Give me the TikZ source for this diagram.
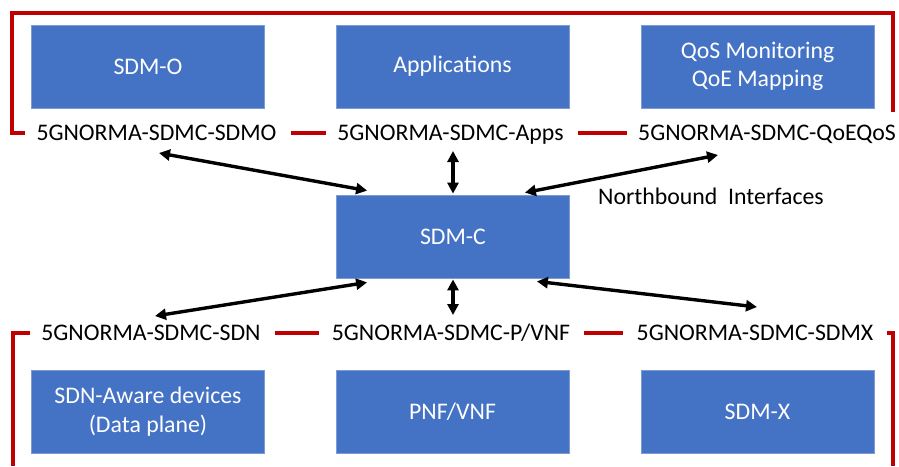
\documentclass[tikz,border=0pt]{standalone}
\usepackage{fontspec}
\setmainfont{Carlito}
\usetikzlibrary{arrows.meta,calc}
\definecolor{boxblue}{HTML}{4472C4}
\definecolor{boxedge}{HTML}{7F9BD3}
\definecolor{bracketred}{HTML}{C00000}
\begin{document}
\begin{tikzpicture}[x=1pt,y=-1pt,
  txt/.style={font=\fontsize{23.8pt}{28.5pt}\selectfont},
  blockbox/.style={txt, rectangle, fill=boxblue, draw=boxedge, line width=0.8pt,
    minimum width=233pt, minimum height=83pt, inner sep=0pt, text=white, align=center},
  iflabel/.style={txt, anchor=base, inner sep=0pt, text=black},
  redline/.style={draw=bracketred, line width=3.2pt},
  biarrow/.style={line width=3.4pt, {Triangle[length=11pt,width=11pt]}-{Triangle[length=11pt,width=11pt]}}
]
\useasboundingbox (0,0) rectangle (899,466);

% blocks
\node[blockbox] (sdmo) at (148,66.5) {SDM-O};
\node[blockbox] (apps) at (452.5,66.5) {Applications};
\node[blockbox] (qos)  at (757.5,66.5) {QoS Monitoring\\QoE Mapping};
\node[blockbox] (sdmc) at (453,236.5) {SDM-C};
\node[blockbox] (sdn)  at (148,411.5) {SDN-Aware devices\\(Data plane)};
\node[blockbox] (pnf)  at (452.5,411.5) {PNF/VNF};
\node[blockbox] (sdmx) at (757.5,411.5) {SDM-X};

% interface labels
\node[iflabel] (lo)  at (156.5,140.5) {5GNORMA-SDMC-SDMO};
\node[iflabel] (la)  at (450.5,140.5) {5GNORMA-SDMC-Apps};
\node[iflabel] (lq)  at (767,140.5) {5GNORMA-SDMC-QoEQoS};
\node[iflabel] (ls)  at (151,340.5) {5GNORMA-SDMC-SDN};
\node[iflabel] (lp)  at (451,340.5) {5GNORMA-SDMC-P/VNF};
\node[iflabel] (lx)  at (755,340.5) {5GNORMA-SDMC-SDMX};
\node[iflabel] (nb)  at (711,204.5) {Northbound\ \ Interfaces};

% red brackets
\draw[redline] (25,133) -- (12,133) -- (12,13) -- (893,13) -- (893,112);
\draw[redline] (291,133) -- (326,133);
\draw[redline] (578,133) -- (627,133);
\draw[redline] (30,333) -- (13,333) -- (13,466);
\draw[redline] (275,333) -- (319,333);
\draw[redline] (584,333) -- (623,333);
\draw[redline] (887,333) -- (893,333) -- (893,466);

% arrow free ends
\coordinate (eo) at (159,153);
\coordinate (ea) at (453,151);
\coordinate (eq) at (718,155);
\coordinate (es) at (155,316);
\coordinate (ep) at (453,315);
\coordinate (ex) at (757,307);

% arrows
\draw[biarrow] (eo) -- ($(sdmc.north west)+(31,-4)$);
\draw[biarrow] (ea) -- ($(sdmc.north)+(0,-1)$);
\draw[biarrow] (eq) -- ($(sdmc.north east)+(-45,-2)$);
\draw[biarrow] (es) -- ($(sdmc.south west)+(31,4)$);
\draw[biarrow] (ep) -- ($(sdmc.south)+(0,1)$);
\draw[biarrow] (ex) -- ($(sdmc.south east)+(-33,3)$);
\end{tikzpicture}
\end{document}
